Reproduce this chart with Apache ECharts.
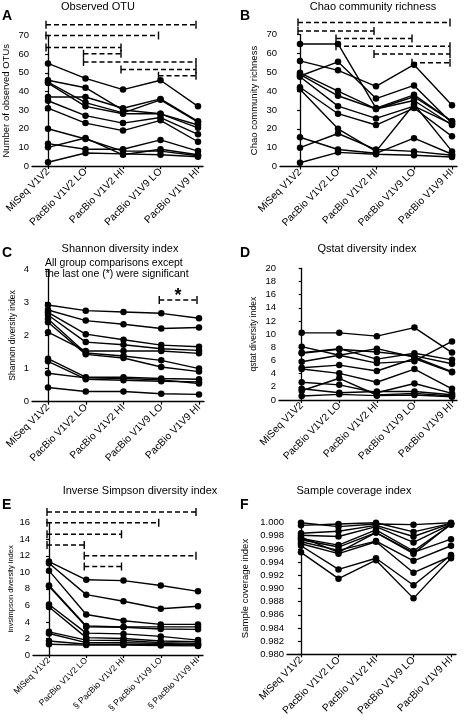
<!DOCTYPE html>
<html><head><meta charset="utf-8">
<script src="https://cdn.jsdelivr.net/npm/echarts@6/dist/echarts.min.js"></script>
<style>html,body{margin:0;padding:0;background:#fff}#c{width:472px;height:723px}</style>
</head><body><div id="c"></div>
<script>
// ---- data ----
var categories = ['MiSeq V1V2','PacBio V1V2 LO','PacBio V1V2 HI','PacBio V1V9 LO','PacBio V1V9 HI'];
var categoriesE = ['MiSeq V1V2','PacBio V1V2 LO','§ PacBio V1V2 HI','§ PacBio V1V9 LO','§ PacBio V1V9 HI'];

var otuSamples = [
  [55, 47, 41, 46, 32],
  [46, 42, 30, 28, 22],
  [37, 37, 31, 36, 24],
  [45, 34, 28.5, 35.5, 23.5],
  [44.5, 32, 28, 28, 20.5],
  [35, 27, 23, 26, 17],
  [31, 23, 19, 24.5, 13],
  [20, 14.5, 8, 8, 5.5],
  [12, 9, 9, 14, 8],
  [10, 15, 6, 9, 6],
  [2, 7, 6.5, 6, 5]
];
var chaoSamples = [
  [65, 65, 31, 38, 24],
  [56, 51, 42.5, 54, 32.5],
  [48, 55.5, 36, 43, 23],
  [49.7, 40, 30.5, 37, 24],
  [48.8, 37.5, 30.5, 35, 22],
  [47.6, 32, 25.5, 32, 22.5],
  [42, 28, 22, 31, 16],
  [41, 20, 8, 33, 8],
  [15.5, 9, 7, 15, 6.5],
  [10, 17.5, 9, 8, 6],
  [2, 7.5, 6.5, 6, 5]
];
var shannonSamples = [
  [2.92, 2.75, 2.71, 2.67, 2.52],
  [2.77, 2.45, 2.34, 2.21, 2.24],
  [2.7, 2.04, 1.87, 1.71, 1.66],
  [2.62, 1.8, 1.72, 1.6, 1.55],
  [2.5, 1.47, 1.38, 1.25, 1.0],
  [2.4, 1.43, 1.32, 1.05, 0.91],
  [2.1, 1.53, 1.53, 1.53, 1.46],
  [1.3, 0.74, 0.74, 0.7, 0.68],
  [1.22, 0.68, 0.65, 0.62, 0.6],
  [0.86, 0.72, 0.7, 0.66, 0.55],
  [0.43, 0.31, 0.31, 0.24, 0.22]
];
var qstatSamples = [
  [10.2, 10.2, 9.7, 11, 7.2],
  [8.1, 6.8, 7.8, 6.5, 4.3],
  [7.2, 7.8, 6.2, 7.1, 6.1],
  [7.1, 7.7, 7.3, 6.7, 5.5],
  [5.8, 6.8, 5.6, 5.9, 8.9],
  [4.9, 5.3, 4.4, 6.3, 4.2],
  [4.7, 4.05, 2.7, 4.7, 1.7],
  [2.7, 2.3, 1.1, 2.5, 1.0],
  [1.7, 1.1, 1.3, 1.3, 0.8],
  [1.4, 3.3, 0.76, 1.0, 0.6],
  [0.6, 0.86, 0.66, 0.76, 0.5]
];
var invSimpsonSamples = [
  [11.3, 9.1, 9.0, 8.4, 7.7],
  [11.1, 7.3, 6.5, 5.6, 5.9],
  [10.2, 4.9, 4.15, 3.7, 3.7],
  [8.4, 3.5, 3.4, 3.4, 3.4],
  [8.3, 3.4, 3.35, 3.15, 3.1],
  [6.1, 2.65, 2.55, 2.25, 1.8],
  [5.8, 2.1, 2.0, 1.7, 1.6],
  [2.8, 1.8, 1.75, 1.5, 1.4],
  [2.6, 1.5, 1.5, 1.4, 1.25],
  [1.7, 1.3, 1.3, 1.3, 1.2],
  [1.3, 1.2, 1.2, 1.15, 1.1]
];
var coverageSamples = [
  [1.0000, 0.9994, 0.9998, 0.9997, 1.0000],
  [0.9996, 0.9998, 1.0000, 0.9986, 0.9999],
  [0.9984, 0.9987, 0.9996, 0.9979, 0.9999],
  [0.9981, 0.9979, 0.9994, 0.9970, 0.9998],
  [0.9976, 0.9966, 0.9989, 0.9957, 0.9997],
  [0.9974, 0.9963, 0.9985, 0.9955, 0.9975],
  [0.9971, 0.9958, 0.9972, 0.9942, 0.9965],
  [0.9968, 0.9953, 0.9971, 0.9924, 0.9949],
  [0.9965, 0.9929, 0.9946, 0.9905, 0.9951],
  [0.9955, 0.9915, 0.9943, 0.9885, 0.9946],
  [0.9978, 0.9955, 0.9985, 0.9953, 0.9998]
];

// significance brackets: [fromCategory, toCategory, level]
var otuBrackets = [[0,4,75.7],[0,3,70],[0,2,63.6],[1,2,60.2],[1,4,55.8],[2,4,51.7],[3,4,48.4]];
var chaoBrackets = [[0,4,76.4],[0,2,71.8],[1,3,67.9],[1,4,63.8],[2,4,59.6],[3,4,55]];
var shannonBrackets = [[3,4,3.07]];
var shannonBracketLabels = ['*'];
var invSimpsonBrackets = [[0,4,17.3],[0,3,16.0],[0,2,14.6],[0,1,13.3],[1,4,12.0],[1,2,10.7]];

var panelTitles = ['Observed OTU','Chao community richness','Shannon diversity index','Qstat diversity index','Inverse Simpson diversity index','Sample coverage index'];
var panelLetters = ['A','B','C','D','E','F'];
var yNames = ['Number of observed OTUs','Chao community richness','Shannon diversity index','qstat diversity index','invsimpson diversity index','Sample coverage index'];

// ---- layout ----
var FONT = 'Liberation Sans, Arial, sans-serif';
var panels = [
  {samples: otuSamples, cats: categories, brackets: otuBrackets, labels: [], left:32, firstCat:48, lastCat:198, right:203, top:35.5, bottom:166, ymin:0, ymax:70, step:10, dec:0, nameGap:21, nameSize:9.5, xFont:10.2, yFont:9.5},
  {samples: chaoSamples, cats: categories, brackets: chaoBrackets, labels: [], left:280, firstCat:300, lastCat:452, right:457, top:34.5, bottom:166.5, ymin:0, ymax:70, step:10, dec:0, nameGap:21, nameSize:9.5, xFont:10.2, yFont:9.5},
  {samples: shannonSamples, cats: categories, brackets: shannonBrackets, labels: shannonBracketLabels, left:32, firstCat:48, lastCat:199, right:204, top:269.3, bottom:401.7, ymin:0, ymax:4, step:1, dec:0, nameGap:15, nameSize:8.5, xFont:10.2, yFont:9.5},
  {samples: qstatSamples, cats: categories, brackets: [], labels: [], left:279, firstCat:301.7, lastCat:452, right:457, top:268.3, bottom:400, ymin:0, ymax:20, step:2, dec:0, nameGap:21, nameSize:8.5, xFont:10.2, yFont:9.5},
  {samples: invSimpsonSamples, cats: categoriesE, brackets: invSimpsonBrackets, labels: [], left:33, firstCat:49, lastCat:198, right:203, top:522.7, bottom:655, ymin:0, ymax:16, step:2, dec:0, nameGap:18, nameSize:7.5, xFont:8.6, yFont:9.5},
  {samples: coverageSamples, cats: categories, brackets: [], labels: [], left:287, firstCat:301, lastCat:451, right:456, top:522.7, bottom:654.3, ymin:0.98, ymax:1.0, step:0.002, dec:3, nameGap:37, nameSize:9.5, xFont:10.2, yFont:9.5}
];
var titlePos = [[98,1],[373,1],[120,243],[367,243],[140,485],[354,485]];
var letterPos = [[2,9],[240,9],[2,246],[240,246],[2,498],[240,498]];

var grids = [], xAxes = [], yAxes = [], series = [], titles = [];
panels.forEach(function (p, k) {
  var sp = (p.lastCat - p.firstCat) / 4;
  grids.push({left: p.left, top: p.top, width: p.right - p.left, height: p.bottom - p.top});
  var cats = p.cats;
  xAxes.push({
    type: 'value', gridIndex: k,
    min: -(p.firstCat - p.left) / sp, max: 4 + (p.right - p.lastCat) / sp,
    splitLine: {show: false},
    axisLine: {onZero: false, lineStyle: {color: '#000', width: 1.3}},
    axisTick: {customValues: [0,1,2,3,4], length: 3, lineStyle: {color: '#000', width: 1.2}},
    axisLabel: {customValues: [0,1,2,3,4], rotate: 45, margin: 4, fontSize: p.xFont, fontFamily: FONT, color: '#000',
      formatter: function (v) { return cats[Math.round(v)]; }}
  });
  yAxes.push({
    type: 'value', gridIndex: k, min: p.ymin, max: p.ymax, interval: p.step,
    name: yNames[k], nameLocation: 'middle', nameGap: p.nameGap, nameRotate: 90,
    nameTextStyle: {fontSize: p.nameSize, fontFamily: FONT, color: '#000'},
    splitLine: {show: false},
    axisLine: {show: true, lineStyle: {color: '#000', width: 1.3}},
    axisTick: {show: true, length: 3, lineStyle: {color: '#000', width: 1.2}},
    axisLabel: {fontSize: p.yFont, fontFamily: FONT, color: '#000', margin: 3,
      formatter: function (v) { return p.dec ? v.toFixed(p.dec) : String(Math.round(v)); }}
  });
  p.samples.forEach(function (row) {
    series.push({
      type: 'line', xAxisIndex: k, yAxisIndex: k,
      data: row.map(function (v, i) { return [i, v]; }),
      symbol: 'circle', symbolSize: 6.5, showSymbol: true,
      itemStyle: {color: '#000'}, lineStyle: {color: '#000', width: 1.4},
      clip: false, silent: true, animation: false, z: 3
    });
  });
  if (p.brackets.length) {
    var labels = p.labels;
    series.push({
      type: 'custom', xAxisIndex: k, yAxisIndex: k, clip: false, silent: true, animation: false,
      data: p.brackets,
      renderItem: function (params, api) {
        var a = api.coord([api.value(0), api.value(2)]);
        var b = api.coord([api.value(1), api.value(2)]);
        a[0] -= 2; b[0] -= 2;
        var st = {stroke: '#000', lineWidth: 1.4};
        var children = [
          {type: 'line', shape: {x1: a[0], y1: a[1], x2: b[0], y2: b[1]}, style: {stroke: '#000', lineWidth: 1.5, lineDash: [5, 3]}},
          {type: 'line', shape: {x1: a[0], y1: a[1] - 4, x2: a[0], y2: a[1] + 4}, style: st},
          {type: 'line', shape: {x1: b[0], y1: b[1] - 4, x2: b[0], y2: b[1] + 4}, style: st}
        ];
        var lab = labels[params.dataIndex];
        if (lab) {
          children.push({type: 'text', style: {text: lab, x: (a[0] + b[0]) / 2, y: a[1] + 5, align: 'center', verticalAlign: 'bottom', font: 'bold 18px ' + FONT, fill: '#000'}});
        }
        return {type: 'group', children: children};
      }
    });
  }
  titles.push({text: panelTitles[k], left: titlePos[k][0], top: titlePos[k][1], textAlign: 'center',
    textStyle: {fontSize: 11, fontWeight: 'normal', fontFamily: FONT, color: '#000'}, padding: 0});
  titles.push({text: panelLetters[k], left: letterPos[k][0], top: letterPos[k][1],
    textStyle: {fontSize: 14, fontWeight: 'bold', fontFamily: FONT, color: '#000'}, padding: 0});
});
titles.push({text: 'All group comparisons except\nthe last one (*) were significant', left: 45, top: 258,
  textStyle: {fontSize: 10.5, fontWeight: 'normal', lineHeight: 11, fontFamily: FONT, color: '#000'}, padding: 0});

var chart = echarts.init(document.getElementById('c'), null, {renderer: 'canvas'});
chart.setOption({
  animation: false,
  backgroundColor: '#fff',
  title: titles,
  grid: grids,
  xAxis: xAxes,
  yAxis: yAxes,
  series: series
});
</script>
</body></html>
